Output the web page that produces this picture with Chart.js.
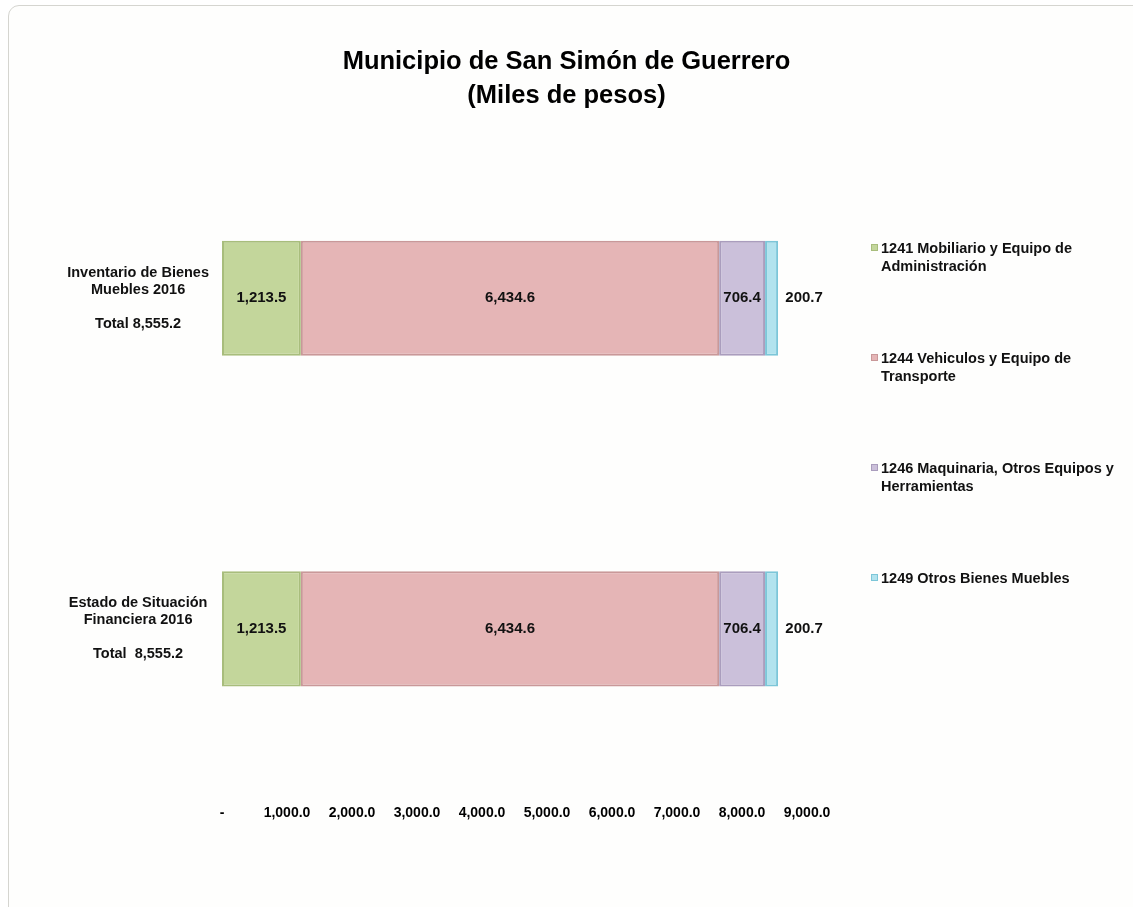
<!DOCTYPE html>
<html lang="es">
<head>
<meta charset="utf-8">
<title>Municipio de San Simón de Guerrero</title>
<script src="https://cdn.jsdelivr.net/npm/chart.js@4.4.1/dist/chart.umd.min.js"></script>
<style>
  html, body { margin: 0; padding: 0; background: #fff; overflow: hidden; }
  .frame {
    position: absolute; left: 8px; top: 5px; width: 1150px; height: 930px;
    border: 1px solid #d5d5d0; border-radius: 11px; background: #fefefd;
  }
  .chart-box { position: absolute; left: 0; top: 0; width: 1133px; height: 907px; }
  #legend {
    position: absolute; left: 871px; top: 239px;
    font: bold 14.5px 'Liberation Sans', Arial, sans-serif; color: #111;
  }
  .item { display: flex; align-items: flex-start; height: 110px; }
  .swatch { width: 7px; height: 7px; margin: 5px 3px 0 0; flex: none; }
  .text { line-height: 18px; white-space: nowrap; }
</style>
</head>
<body>
<div class="frame"></div>
<div class="chart-box"><canvas id="chart"></canvas></div>
<div id="legend"></div>

<script>
// ─── Data ─────────────────────────────────────────────────────────────────────
const categories = [
  ['Inventario de Bienes', 'Muebles 2016', '', 'Total 8,555.2'],
  ['Estado de Situación', 'Financiera 2016', '', 'Total  8,555.2'],
];
const seriesNames = [
  ['1241 Mobiliario y Equipo de', 'Administración'],
  ['1244 Vehiculos y Equipo de', 'Transporte'],
  ['1246 Maquinaria, Otros Equipos y', 'Herramientas'],
  ['1249 Otros Bienes Muebles'],
];
const mobiliario = [1213.5, 1213.5];
const vehiculos = [6434.6, 6434.6];
const maquinaria = [706.4, 706.4];
const otros = [200.7, 200.7];
const xTickLabels = ['-', '1,000.0', '2,000.0', '3,000.0', '4,000.0',
  '5,000.0', '6,000.0', '7,000.0', '8,000.0', '9,000.0'];

const fills = ['#c3d69b', '#e5b5b6', '#cbc0da', '#b2e3ee'];
const edges = ['#a8bd7c', '#c99899', '#aa9dbd', '#7cc6d8'];
const FONT = "'Liberation Sans', Arial, sans-serif";

const fmt = v => v.toLocaleString('en-US', { minimumFractionDigits: 1, maximumFractionDigits: 1 });

// Value labels: centred inside the segment, or just right of it if too narrow
const valueLabels = {
  id: 'valueLabels',
  afterDatasetsDraw(chart) {
    const { ctx } = chart;
    ctx.save();
    ctx.font = `bold 15px ${FONT}`;
    ctx.fillStyle = '#111';
    ctx.textBaseline = 'middle';
    ctx.textAlign = 'center';
    chart.data.datasets.forEach((ds, i) => {
      chart.getDatasetMeta(i).data.forEach((bar, j) => {
        const txt = fmt(ds.data[j]);
        const w = bar.x - bar.base;
        const x = w > ctx.measureText(txt).width + 6 ? (bar.x + bar.base) / 2 : bar.x + 26;
        ctx.fillText(txt, x, bar.y);
      });
    });
    ctx.restore();
  },
};

const seriesData = [mobiliario, vehiculos, maquinaria, otros];

new Chart(document.getElementById('chart'), {
  type: 'bar',
  data: {
    labels: categories,
    datasets: seriesData.map((d, i) => ({
      label: seriesNames[i].join(' '),
      data: d,
      backgroundColor: fills[i],
      borderColor: edges[i],
      borderWidth: 2,
      borderSkipped: false,
      categoryPercentage: 1,
      barPercentage: 0.348,
    })),
  },
  options: {
    indexAxis: 'y',
    responsive: true,
    maintainAspectRatio: false,
    animation: false,
    layout: { padding: { top: 0, left: 0, right: 0, bottom: 74 } },
    plugins: {
      legend: { display: false },
      tooltip: { enabled: false },
      title: {
        display: true,
        text: ['Municipio de San Simón de Guerrero', '(Miles de pesos)'],
        color: '#000',
        font: { family: FONT, size: 25.5, weight: 'bold', lineHeight: 1.33 },
        padding: { top: 45, bottom: 20 },
      },
    },
    scales: {
      x: {
        stacked: true,
        min: 0,
        max: 9000,
        grid: { display: false, drawTicks: false },
        border: { display: false },
        ticks: {
          stepSize: 1000,
          padding: 11,
          maxRotation: 0,
          autoSkip: false,
          color: '#000',
          font: { family: FONT, size: 14, weight: 'bold' },
          callback: (v, i) => xTickLabels[i],
        },
      },
      y: {
        stacked: true,
        grid: { display: false, drawTicks: false },
        border: { display: false },
        afterFit: s => { s.width = 222; },
        ticks: {
          crossAlign: 'center',
          padding: 13,
          color: '#111',
          font: { family: FONT, size: 14.5, weight: 'bold', lineHeight: 1.17 },
        },
      },
      yRight: {
        type: 'category',
        position: 'right',
        grid: { display: false, drawTicks: false },
        border: { display: false },
        ticks: { display: false },
        afterFit: s => { s.width = 326; },
      },
    },
  },
  plugins: [valueLabels],
});

// HTML legend with the original line breaks
document.getElementById('legend').innerHTML = seriesNames.map((lines, i) =>
  `<div class="item"><span class="swatch" style="background:${fills[i]};border:1px solid ${edges[i]};box-sizing:border-box"></span>` +
  `<span class="text">${lines.join('<br>')}</span></div>`
).join('');
</script>
</body>
</html>
